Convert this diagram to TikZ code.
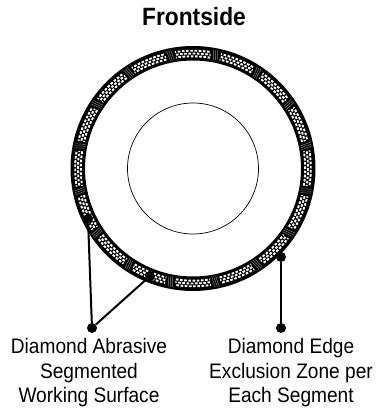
\documentclass[tikz,border=0pt]{standalone}
\usepackage{fontspec}
\setmainfont[FakeStretch=0.91]{Liberation Sans}
\tikzset{
  dotmark/.style={circle,fill=black,inner sep=0pt,minimum size=10pt},
  leader/.style={draw=black,line width=2pt},
  caption/.style={align=center,font=\fontsize{21}{24.5}\selectfont},
}
\begin{document}
\begin{tikzpicture}[x=1pt,y=1pt]
        \useasboundingbox (0,0) rectangle (378,408);
        \node[anchor=base] (title) at (194,382) {\fontsize{25}{28}\selectfont\bfseries Frontside};
        \node[circle,draw=black,line width=0.7pt,inner sep=0pt,minimum size=131pt] (hub) at (193,239.5) {};
        \begin{scope}[shift={(hub.center)}]
            \draw[line width=14.5pt] (0,0) circle (115.25);
            % segments
            \foreach \a in {0,22.5,...,337.5}{
                \foreach \r/\p in {112.2/0,115/1.4,117.8/2.8}{
                    \draw[white,line width=1.9pt,dash pattern=on 2.6pt off 1.6pt,dash phase=\p pt] (\a-8.8:\r) arc (\a-8.8:\a+8.8:\r);
                }
                \foreach \d in {-1,0,1}{
                    \draw[gray,line width=0.5pt] (\a+11.25+\d-0.4:110) -- (\a+11.25+\d+0.4:120.5);
                }
            }
        \end{scope}
        % leaders
        \node[dotmark] (abrasiveA) at (88,189) {};
        \node[dotmark] (abrasiveB) at (150,132) {};
        \node[dotmark] (abrasiveEnd) at (92,80) {};
        \node[dotmark] (zoneA) at (281,151) {};
        \node[dotmark] (zoneEnd) at (281,80) {};
        \draw[leader] (abrasiveA) -- (abrasiveEnd);
        \draw[leader] (abrasiveB) -- (abrasiveEnd);
        \draw[leader] (zoneA) -- (zoneEnd);
        \node[caption] (abrasiveText) at (89,35) {Diamond Abrasive\\Segmented\\Working Surface};
        \node[caption] (zoneText) at (291,35) {Diamond Edge\\Exclusion Zone per\\Each Segment};
    \end{tikzpicture}
\end{document}
